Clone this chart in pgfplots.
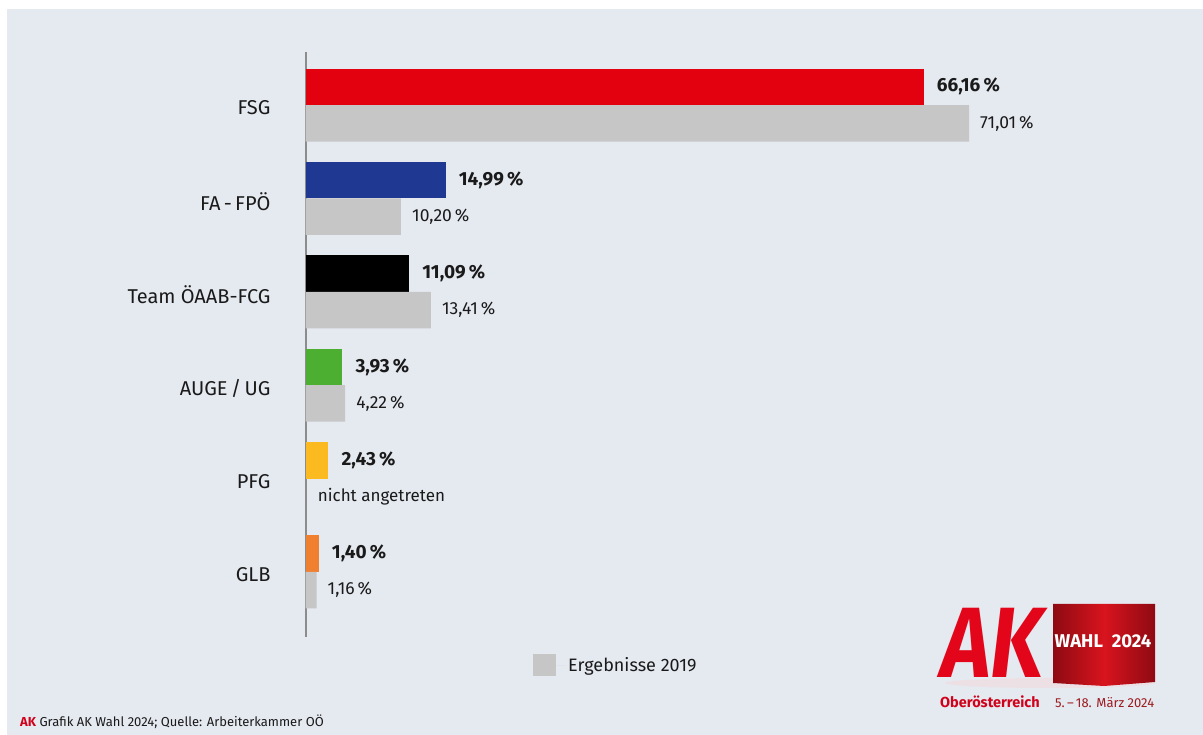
\documentclass[border=0pt]{standalone}
\usepackage{fontspec}
\setmainfont{Fira Sans}
\usepackage{graphicx}
\usepackage{pgfplots}
\pgfplotsset{compat=1.18}
\definecolor{bgc}{HTML}{E5E9F0}
\definecolor{cfsg}{HTML}{E3000F}
\definecolor{cfpo}{HTML}{1F3891}
\definecolor{coaab}{HTML}{000000}
\definecolor{cauge}{HTML}{4DAF32}
\definecolor{cpfg}{HTML}{FBBA20}
\definecolor{cglb}{HTML}{F08030}
\definecolor{cgray}{HTML}{C6C6C6}
\definecolor{axgray}{HTML}{8C8C8C}
\definecolor{txt}{HTML}{1A1A1A}
\definecolor{akred}{HTML}{D0021B}
\definecolor{logored}{HTML}{E3061A}
\definecolor{cubedark}{HTML}{8E0A12}
\definecolor{cubered}{HTML}{D8141E}
\definecolor{maroon}{HTML}{9B1B1F}
\begin{document}
\begin{tikzpicture}[x=1pt,y=1pt]
\fill[white] (0,0) rectangle (1203,735);
\fill[bgc] (7,0) rectangle (1203,726);
\begin{axis}[
  at={(305.7pt,98.3pt)}, anchor=south west,
  scale only axis, width=794pt, height=585pt,
  xmin=0, xmax=85, ymin=-0.693, ymax=5.571,
  xbar, bar width=36.5pt,
  hide x axis,
  axis y line*=left,
  y axis line style={draw=axgray, line width=2pt},
  ytick={0,1,2,3,4,5},
  yticklabels={GLB,PFG,AUGE\,/\,UG,Team ÖAAB-FCG,FA\,-\,FPÖ,FSG},
  major tick length=0pt,
  yticklabel style={font=\fontsize{20}{24}\selectfont, text=txt, inner sep=0pt, xshift=-35pt, yshift=-3pt},
  clip=false,
  /pgf/number format/assume math mode=true,
  legend style={at={(0.2863,-0.0484)}, anchor=west, draw=none, fill=none, inner sep=0pt,
    font=\fontsize{18}{22}\selectfont, text=txt},
  legend image code/.code={\path (0pt,0pt) rectangle (33pt,0pt);\fill[cgray] (0pt,-11pt) rectangle (22.5pt,11pt);},
]
\pgfplotsset{
  new24/.style={draw=none, fill=#1, bar shift=18.25pt, forget plot,
    nodes near coords={\pgfmathprintnumber[fixed,fixed zerofill,precision=2,use comma]{\pgfplotspointmeta}\,\%},
    every node near coord/.append style={anchor=west, inner sep=0pt, xshift=13pt, text=txt,
      font=\fontsize{19}{22}\selectfont\bfseries}},
}
\addplot[new24=cfsg] coordinates {(66.16,5)};
\addplot[new24=cfpo] coordinates {(14.99,4)};
\addplot[new24=coaab] coordinates {(11.09,3)};
\addplot[new24=cauge] coordinates {(3.93,2)};
\addplot[new24=cpfg] coordinates {(2.43,1)};
\addplot[new24=cglb] coordinates {(1.40,0)};
\addplot[draw=none, fill=cgray, bar shift=-18.25pt,
    nodes near coords={\pgfmathprintnumber[fixed,fixed zerofill,precision=2,use comma]{\pgfplotspointmeta}\,\%},
    every node near coord/.append style={anchor=west, inner sep=0pt, xshift=11pt, text=txt,
      font=\fontsize{17.5}{20}\selectfont}]
  coordinates {(71.01,5) (10.20,4) (13.41,3) (4.22,2) (1.16,0)};
\addlegendentry{Ergebnisse 2019}
\node[anchor=west, inner sep=0pt, text=txt, font=\fontsize{17}{20}\selectfont, xshift=12pt, yshift=-18.25pt] at (axis cs:0,1) {nicht angetreten};
\end{axis}
% footer
\node[anchor=base west, inner sep=0pt, text=txt] at (20,8) {\fontsize{13}{15}\selectfont\textcolor{akred}{\bfseries AK} Grafik AK Wahl 2024; Quelle: Arbeiterkammer OÖ};
% logo
\fill[red!20, opacity=0.3] (1050,52) ellipse (105 and 5);
\node[anchor=base west, inner sep=0pt, text=logored] at (941,57) {\scalebox{0.85}[1]{\fontsize{100}{100}\selectfont\bfseries\itshape AK}};
\shade[left color=cubedark, right color=cubered] (1053,52) -- (1104,49) -- (1104,131) -- (1053,131) -- cycle;
\shade[left color=cubered, right color=cubedark] (1104,49) -- (1155,53) -- (1155,131) -- (1104,131) -- cycle;
\node[text=white, inner sep=0pt, font=\fontsize{18.5}{22}\selectfont\bfseries] at (1103,94) {WAHL\ \ 2024};
\node[anchor=base west, inner sep=0pt, text=akred, font=\fontsize{14.5}{16}\selectfont\bfseries] at (940,27) {Oberösterreich};
\node[anchor=base west, inner sep=0pt, text=maroon, font=\fontsize{13}{15}\selectfont] at (1055,27) {5.\,–\,18. März 2024};
\end{tikzpicture}
\end{document}
